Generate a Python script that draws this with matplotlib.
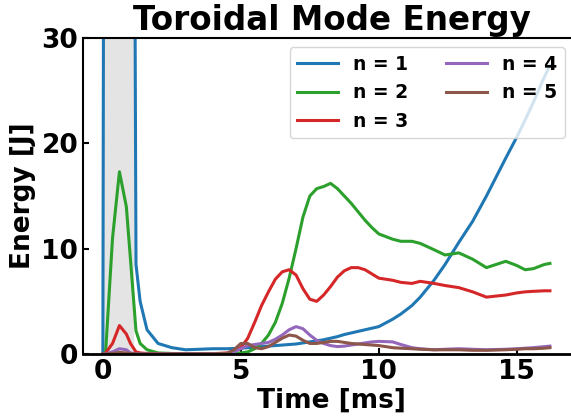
import numpy as np
import matplotlib
matplotlib.use("Agg")
import matplotlib.pyplot as plt

# time samples [ms]
t = [0, 0.1, 0.35, 0.6, 0.85, 1.0, 1.2, 1.35, 1.6, 2.0, 2.5, 3.0, 3.5, 4.0, 4.5, 4.75,
     5.0, 5.25, 5.5, 5.75, 6.0, 6.25, 6.5, 6.75, 7.0, 7.25, 7.5, 7.75, 8.0, 8.25, 8.5, 8.75,
     9.0, 9.25, 9.5, 9.75, 10.0, 10.5, 10.8, 11.2, 11.5, 12.0, 12.4, 12.9, 13.4, 13.9, 14.6,
     15.0, 15.3, 15.6, 16.0, 16.2]

n1 = [0, 150, 300, 300, 250, 150, 8.5, 5.0, 2.3, 1.0, 0.6, 0.4, 0.45, 0.5, 0.5, 0.52,
      0.55, 0.6, 0.65, 0.7, 0.75, 0.8, 0.85, 0.9, 0.95, 1.05, 1.15, 1.25, 1.35, 1.5, 1.65, 1.85,
      2.0, 2.15, 2.3, 2.45, 2.6, 3.3, 3.8, 4.6, 5.4, 7.0, 8.5, 10.6, 12.6, 15.0, 18.6,
      20.6, 22.2, 23.9, 26.3, 27.4]

n2 = [0, 0.2, 11, 17.3, 14, 9, 2.2, 1.0, 0.4, 0.1, 0.05, 0.03, 0.03, 0.03, 0.05, 0.07,
      0.1, 0.2, 0.5, 1.0, 1.8, 3.0, 4.8, 7.2, 10.0, 13.0, 15.0, 15.7, 15.9, 16.2, 15.7, 15.0,
      14.3, 13.5, 12.7, 12.0, 11.4, 10.9, 10.7, 10.7, 10.5, 9.9, 9.4, 9.6, 9.0, 8.2, 8.8,
      8.4, 8.0, 8.1, 8.5, 8.6]

n3 = [0, 0.1, 1.0, 2.7, 1.9, 1.0, 0.2, 0.1, 0.05, 0.02, 0.02, 0.02, 0.02, 0.03, 0.1, 0.3,
      0.6, 1.5, 3.0, 4.6, 5.9, 7.1, 7.8, 8.0, 7.5, 6.2, 5.2, 5.0, 5.6, 6.4, 7.3, 7.9,
      8.2, 8.2, 8.0, 7.6, 7.2, 7.0, 6.8, 6.7, 6.9, 6.7, 6.5, 6.3, 5.9, 5.4, 5.6,
      5.8, 5.9, 5.95, 6.0, 6.0]

n4 = [0, 0.02, 0.2, 0.5, 0.4, 0.1, 0.03, 0.02, 0.01, 0.01, 0.01, 0.01, 0.01, 0.02, 0.05, 0.2,
      0.5, 0.8, 0.9, 1.0, 1.1, 1.4, 1.8, 2.3, 2.6, 2.4, 1.8, 1.3, 1.0, 0.8, 0.7, 0.75,
      0.85, 0.95, 1.05, 1.15, 1.2, 1.15, 0.9, 0.6, 0.5, 0.4, 0.45, 0.5, 0.45, 0.4, 0.45,
      0.5, 0.55, 0.6, 0.7, 0.75]

n5 = [0, 0.01, 0.05, 0.15, 0.1, 0.05, 0.02, 0.01, 0.01, 0.01, 0.01, 0.01, 0.01, 0.02, 0.05, 0.4,
      1.0, 1.0, 0.6, 0.5, 0.7, 1.1, 1.5, 1.8, 1.7, 1.3, 1.0, 1.0, 1.1, 1.2, 1.2, 1.1,
      1.0, 0.95, 0.9, 0.85, 0.8, 0.6, 0.55, 0.5, 0.45, 0.4, 0.4, 0.4, 0.35, 0.35, 0.4,
      0.45, 0.5, 0.5, 0.55, 0.6]

series = [n1, n2, n3, n4, n5]
labels = ['n = 1', 'n = 2', 'n = 3', 'n = 4', 'n = 5']
colors = ['#1f77b4', '#2ca02c', '#d62728', '#9467bd', '#8c564b']

fig = plt.figure(figsize=(5.71, 4.16), dpi=100)
ax = fig.add_axes([83/571, 62/416, 497/571, 316/416])

ax.axvspan(0, 1.1, color='#e4e4e4', zorder=0)
for y, lab, c in zip(series, labels, colors):
    ax.plot(t, y, color=c, lw=2.2, label=lab)

ax.set_xlim(-0.72, 17.29)
ax.set_ylim(0, 30)
ax.set_xticks([0, 5, 10, 15])
ax.set_yticks([0, 10, 20, 30])
ax.tick_params(direction='in', length=4, width=1.5, labelsize=19)
for lab in ax.get_xticklabels() + ax.get_yticklabels():
    lab.set_fontweight('bold')
ax.spines['right'].set_visible(False)
ax.spines['top'].set_linewidth(1.5)
ax.spines['left'].set_linewidth(1.5)
ax.spines['bottom'].set_linewidth(2)

ax.set_xlabel('Time [ms]', fontsize=19, fontweight='bold', labelpad=2)
ax.set_ylabel('Energy [J]', fontsize=19, fontweight='bold', labelpad=4)
ax.set_title('Toroidal Mode Energy', fontsize=23.5, fontweight='bold')

ax.legend(loc='upper right', bbox_to_anchor=(0.9887, 1.0), ncol=2,
          prop={'weight': 'bold', 'size': 13.5},
          handlelength=2.2, labelspacing=0.5, columnspacing=2.0)

fig.savefig('out.png', dpi=100)
